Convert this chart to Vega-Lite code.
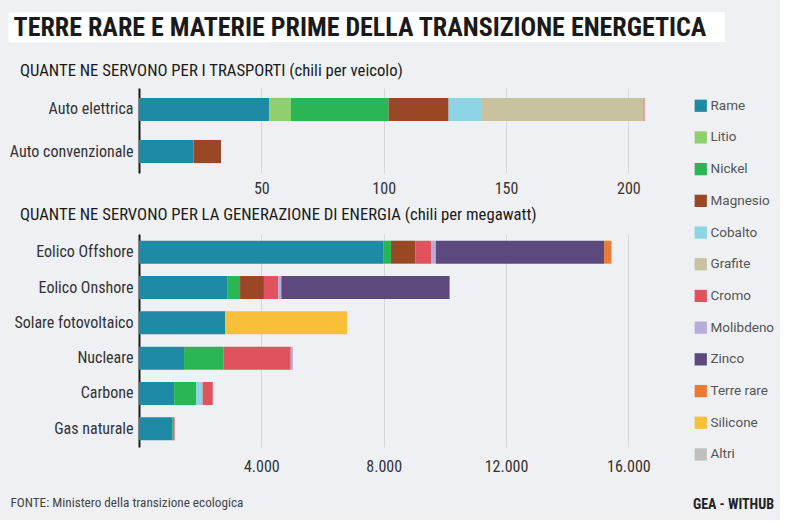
{
  "$schema": "https://vega.github.io/schema/vega-lite/v6.json",
  "background": "#eef0f3",
  "padding": {"left": 8, "top": 12, "right": 5, "bottom": 7},
  "datasets": {
    "titolo": [{"t": "TERRE RARE E MATERIE PRIME DELLA TRANSIZIONE ENERGETICA"}],
    "trasporti": [
      {"cat": "Auto elettrica", "mat": "Rame", "o": 1, "v": 53.2},
      {"cat": "Auto elettrica", "mat": "Litio", "o": 2, "v": 8.9},
      {"cat": "Auto elettrica", "mat": "Nickel", "o": 3, "v": 39.9},
      {"cat": "Auto elettrica", "mat": "Magnesio", "o": 4, "v": 24.5},
      {"cat": "Auto elettrica", "mat": "Cobalto", "o": 5, "v": 13.3},
      {"cat": "Auto elettrica", "mat": "Grafite", "o": 6, "v": 66.3},
      {"cat": "Auto elettrica", "mat": "Terre rare", "o": 10, "v": 0.5},
      {"cat": "Auto elettrica", "mat": "Altri", "o": 12, "v": 0.3},
      {"cat": "Auto convenzionale", "mat": "Rame", "o": 1, "v": 22.3},
      {"cat": "Auto convenzionale", "mat": "Magnesio", "o": 4, "v": 11.2}
    ],
    "energia": [
      {"cat": "Eolico Offshore", "mat": "Rame", "o": 1, "v": 8000},
      {"cat": "Eolico Offshore", "mat": "Nickel", "o": 3, "v": 240},
      {"cat": "Eolico Offshore", "mat": "Magnesio", "o": 4, "v": 790},
      {"cat": "Eolico Offshore", "mat": "Cromo", "o": 7, "v": 525},
      {"cat": "Eolico Offshore", "mat": "Molibdeno", "o": 8, "v": 150},
      {"cat": "Eolico Offshore", "mat": "Zinco", "o": 9, "v": 5500},
      {"cat": "Eolico Offshore", "mat": "Terre rare", "o": 10, "v": 239},
      {"cat": "Eolico Onshore", "mat": "Rame", "o": 1, "v": 2900},
      {"cat": "Eolico Onshore", "mat": "Nickel", "o": 3, "v": 404},
      {"cat": "Eolico Onshore", "mat": "Magnesio", "o": 4, "v": 780},
      {"cat": "Eolico Onshore", "mat": "Cromo", "o": 7, "v": 470},
      {"cat": "Eolico Onshore", "mat": "Molibdeno", "o": 8, "v": 99},
      {"cat": "Eolico Onshore", "mat": "Zinco", "o": 9, "v": 5500},
      {"cat": "Eolico Onshore", "mat": "Terre rare", "o": 10, "v": 14},
      {"cat": "Solare fotovoltaico", "mat": "Rame", "o": 1, "v": 2822},
      {"cat": "Solare fotovoltaico", "mat": "Silicone", "o": 11, "v": 3980},
      {"cat": "Nucleare", "mat": "Rame", "o": 1, "v": 1473},
      {"cat": "Nucleare", "mat": "Nickel", "o": 3, "v": 1297},
      {"cat": "Nucleare", "mat": "Cromo", "o": 7, "v": 2190},
      {"cat": "Nucleare", "mat": "Molibdeno", "o": 8, "v": 70},
      {"cat": "Carbone", "mat": "Rame", "o": 1, "v": 1150},
      {"cat": "Carbone", "mat": "Nickel", "o": 3, "v": 721},
      {"cat": "Carbone", "mat": "Cobalto", "o": 5, "v": 210},
      {"cat": "Carbone", "mat": "Cromo", "o": 7, "v": 330},
      {"cat": "Gas naturale", "mat": "Rame", "o": 1, "v": 1100},
      {"cat": "Gas naturale", "mat": "Nickel", "o": 3, "v": 16},
      {"cat": "Gas naturale", "mat": "Cromo", "o": 7, "v": 48}
    ]
  },
  "title": {
    "text": "GEA - WITHUB",
    "orient": "bottom",
    "anchor": "end",
    "frame": "bounds",
    "offset": -10,
    "fontSize": 14,
    "fontWeight": "bold",
    "color": "#222",
    "dx": -1
  },
  "columns": 1,
  "spacing": 10,
  "resolve": {"scale": {"x": "independent", "y": "independent", "color": "shared"}},
  "concat": [
    {
      "width": 586,
      "height": 30,
      "view": {"fill": "white", "stroke": null},
      "title": {"text": " ", "orient": "bottom", "fontSize": 12, "offset": 0},
      "data": {"name": "titolo"},
      "mark": {"type": "text", "fontSize": 26, "fontWeight": "bold", "color": "#1a1a1a", "align": "center", "baseline": "middle", "dx": -72, "dy": 1},
      "encoding": {
        "text": {"field": "t", "type": "nominal"},
        "y": {"field": "t", "type": "nominal", "axis": {"title": null, "labels": false, "ticks": false, "domain": true, "domainColor": "white", "domainWidth": 262, "domainCap": "butt", "minExtent": 0, "maxExtent": 131}}
      }
    },
    {
      "width": 520,
      "height": 85,
      "title": {"text": "QUANTE NE SERVONO PER I TRASPORTI (chili per veicolo)", "anchor": "start", "frame": "group", "offset": 8, "dx": -119},
      "data": {"name": "trasporti"},
      "mark": {"type": "bar"},
      "encoding": {
        "y": {"field": "cat", "type": "nominal", "sort": ["Auto elettrica", "Auto convenzionale"], "scale": {"paddingInner": 0.45, "paddingOuter": 0.235}, "axis": {"title": null}},
        "x": {"field": "v", "type": "quantitative", "stack": "zero", "scale": {"domain": [0, 212.5], "nice": false}, "axis": {"title": null, "values": [50, 100, 150, 200]}},
        "order": {"field": "o", "type": "quantitative"},
        "color": {
          "field": "mat", "type": "nominal",
          "scale": {
            "domain": ["Rame", "Litio", "Nickel", "Magnesio", "Cobalto", "Grafite", "Cromo", "Molibdeno", "Zinco", "Terre rare", "Silicone", "Altri"],
            "range": ["#1f8aa3", "#90cf6d", "#2bb656", "#9a4726", "#8dd4e4", "#c8c29e", "#e0525d", "#b7acd9", "#5c4a7e", "#ec7a35", "#f8bf3a", "#bfbfbf"]
          },
          "legend": {
            "orient": "none", "legendX": 555, "legendY": 87, "title": null,
            "symbolType": "square", "symbolSize": 150, "symbolStrokeWidth": 0, "symbolOpacity": 1,
            "labelFont": "Roboto", "labelFontSize": 13.5, "labelColor": "#555", "labelOffset": 3, "rowPadding": 16.7
          }
        }
      }
    },
    {
      "width": 520,
      "height": 213,
      "title": {"text": "QUANTE NE SERVONO PER LA GENERAZIONE DI ENERGIA (chili per megawatt)", "anchor": "start", "frame": "group", "offset": 10.5, "dx": -119},
      "data": {"name": "energia"},
      "mark": {"type": "bar"},
      "encoding": {
        "y": {"field": "cat", "type": "nominal", "sort": ["Eolico Offshore", "Eolico Onshore", "Solare fotovoltaico", "Nucleare", "Carbone", "Gas naturale"], "scale": {"paddingInner": 0.35, "paddingOuter": 0.19}, "axis": {"title": null}},
        "x": {
          "field": "v", "type": "quantitative", "stack": "zero", "scale": {"domain": [0, 17000], "nice": false},
          "axis": {
            "title": "FONTE: Ministero della transizione ecologica",
            "titleAnchor": "start", "titleAlign": "left", "titleX": -129, "titleY": 59, "titleBaseline": "alphabetic",
            "titleFontSize": 13.2, "titleFontWeight": "normal", "titleColor": "#444",
            "labelPadding": 11.5,
            "values": [4000, 8000, 12000, 16000],
            "labelExpr": "replace(format(datum.value, ','), ',', '.')"
          }
        },
        "order": {"field": "o", "type": "quantitative"},
        "color": {"field": "mat", "type": "nominal"}
      }
    }
  ],
  "config": {
    "font": "'Roboto Condensed', 'Liberation Sans Narrow', 'Liberation Sans', sans-serif",
    "view": {"stroke": null},
    "title": {"fontSize": 16.7, "fontWeight": "normal", "color": "#1a1a1a"},
    "axisY": {
      "domain": true, "domainColor": "#1a1a1a", "domainWidth": 2, "ticks": false, "grid": false,
      "labelFontSize": 16, "labelColor": "#333", "labelPadding": 6, "minExtent": 131, "maxExtent": 131, "labelLimit": 200
    },
    "axisX": {
      "domain": false, "ticks": false, "grid": true, "gridColor": "#d3d6da", "gridWidth": 1,
      "labelFontSize": 16, "labelColor": "#333", "labelPadding": 7
    }
  }
}
